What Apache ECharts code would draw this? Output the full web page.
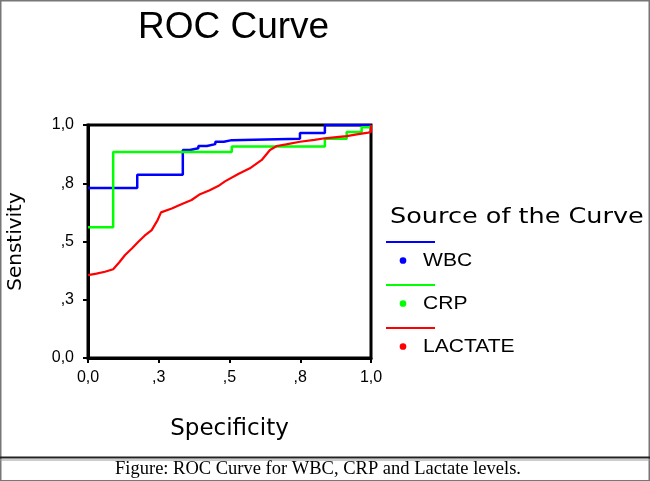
<!DOCTYPE html>
<html>
<head>
<meta charset="utf-8">
<title>ROC Curve</title>
<script src="https://cdn.jsdelivr.net/npm/echarts@6/dist/echarts.min.js"></script>
<style>
html, body { margin: 0; padding: 0; background: #fff; }
#main { width: 650px; height: 481px; }
</style>
</head>
<body>
<div id="main"></div>
<script>
var seriesNames = ['WBC', 'CRP', 'LACTATE'];
var seriesColors = ['#0000ff', '#00ff00', '#ff0000'];
var tickLabels = ['0,0', ',3', ',5', ',8', '1,0'];

// x = value on the "Specificity" axis, y = sensitivity
var wbcX = [0, 0.174, 0.335, 0.36, 0.39, 0.42, 0.45, 0.48, 0.508, 0.749, 0.837, 1];
var wbcY = [0.73, 0.787, 0.893, 0.9, 0.91, 0.918, 0.928, 0.935, 0.941, 0.966, 1, 1];

var crpX = [0, 0.089, 0.508, 0.837, 0.914, 0.967, 1];
var crpY = [0.561, 0.884, 0.908, 0.941, 0.97, 0.99, 1];

var lactateX = [0, 0.03, 0.06, 0.089, 0.11, 0.131, 0.155, 0.178, 0.2, 0.225, 0.246, 0.258, 0.296, 0.33, 0.366, 0.396, 0.43, 0.46, 0.484, 0.531, 0.572, 0.614, 0.643, 0.667, 0.7, 0.749, 0.8, 0.837, 0.87, 0.914, 0.95, 0.99, 1, 1];
var lactateY = [0.356, 0.362, 0.37, 0.381, 0.41, 0.442, 0.47, 0.499, 0.525, 0.549, 0.592, 0.625, 0.642, 0.66, 0.678, 0.703, 0.72, 0.738, 0.758, 0.79, 0.814, 0.85, 0.893, 0.91, 0.917, 0.928, 0.936, 0.943, 0.947, 0.952, 0.96, 0.967, 0.97, 1];

function pairs(xs, ys) {
    var out = [];
    for (var i = 0; i < xs.length; i++) {
        out.push([xs[i], ys[i]]);
    }
    return out;
}

function tickText(value) {
    return tickLabels[Math.round(value / 0.25)];
}

var myChart = echarts.init(document.getElementById('main'));

var font = 'Liberation Sans, Arial, sans-serif';

// legend drawn by hand: a line, then a dot + name under it
var legendRows = [242, 285, 328];
var graphics = [
    { type: 'rect', shape: { x: 0.75, y: 0.75, width: 648.5, height: 480 }, style: { fill: 'none', stroke: '#777', lineWidth: 1.5 }, silent: true },
    { type: 'line', shape: { x1: 0, y1: 457.5, x2: 650, y2: 457.5 }, style: { stroke: '#222', lineWidth: 2 }, silent: true },
    { type: 'line', shape: { x1: 0, y1: 460, x2: 650, y2: 460 }, style: { stroke: '#999', lineWidth: 1 }, silent: true },
    {
        type: 'text', x: 390, y: 217, scaleX: 1.16,
        style: { text: 'Source of the Curve', fill: '#000', font: '22px DejaVu Sans', verticalAlign: 'middle', textVerticalAlign: 'middle' }
    },
    {
        type: 'text', x: 318, y: 469,
        style: { text: 'Figure: ROC Curve for WBC, CRP and Lactate levels.', fill: '#000', font: '18.5px "Liberation Serif", serif', align: 'center', textAlign: 'center', verticalAlign: 'middle', textVerticalAlign: 'middle' }
    }
];
for (var k = 0; k < seriesNames.length; k++) {
    graphics.push({ type: 'line', shape: { x1: 386, y1: legendRows[k], x2: 435, y2: legendRows[k] }, style: { stroke: seriesColors[k], lineWidth: 2 } });
    graphics.push({ type: 'circle', shape: { cx: 403, cy: legendRows[k] + 18.5, r: 2.6 }, style: { fill: seriesColors[k], stroke: seriesColors[k], lineWidth: 1.5 } });
    graphics.push({
        type: 'text', x: 423, y: legendRows[k] + 19, scaleX: 1.17,
        style: { text: seriesNames[k], fill: '#000', font: '18px ' + font, verticalAlign: 'middle', textVerticalAlign: 'middle' }
    });
}

var option = {
    animation: false,
    backgroundColor: '#fff',
    title: {
        text: 'ROC Curve',
        left: 133,
        top: 4,
        textStyle: { fontSize: 37, fontWeight: 'normal', fontFamily: font, color: '#000' }
    },
    grid: {
        show: true,
        left: 88,
        top: 125,
        width: 283,
        height: 233,
        borderColor: '#000',
        borderWidth: 3
    },
    xAxis: {
        type: 'value',
        min: 0,
        max: 1,
        interval: 0.25,
        name: 'Specificity',
        nameLocation: 'middle',
        nameGap: 60,
        nameTextStyle: { fontSize: 23, fontFamily: 'DejaVu Sans', color: '#000' },
        axisLine: { show: true, lineStyle: { color: '#000', width: 3 } },
        axisTick: { show: true, length: 5, lineStyle: { color: '#000', width: 2 } },
        axisLabel: { formatter: tickText, fontSize: 16, fontFamily: font, color: '#000', margin: 12 },
        splitLine: { show: false }
    },
    yAxis: {
        type: 'value',
        min: 0,
        max: 1,
        interval: 0.25,
        name: 'Senstivity',
        nameLocation: 'middle',
        nameRotate: 90,
        nameGap: 62,
        nameTextStyle: { fontSize: 20, fontFamily: 'DejaVu Sans', color: '#000' },
        axisLine: { show: true, lineStyle: { color: '#000', width: 3 } },
        axisTick: { show: true, length: 5, lineStyle: { color: '#000', width: 2 } },
        axisLabel: { formatter: tickText, fontSize: 16, fontFamily: font, color: '#000', margin: 14 },
        splitLine: { show: false }
    },
    series: [
        {
            name: seriesNames[0], type: 'line', step: 'end', symbol: 'none',
            data: pairs(wbcX, wbcY),
            lineStyle: { color: seriesColors[0], width: 2.5 }, itemStyle: { color: seriesColors[0] }
        },
        {
            name: seriesNames[1], type: 'line', step: 'end', symbol: 'none',
            data: pairs(crpX, crpY),
            lineStyle: { color: seriesColors[1], width: 2.5 }, itemStyle: { color: seriesColors[1] }
        },
        {
            name: seriesNames[2], type: 'line', symbol: 'none',
            data: pairs(lactateX, lactateY),
            lineStyle: { color: seriesColors[2], width: 2.2 }, itemStyle: { color: seriesColors[2] }
        }
    ],
    graphic: graphics
};

myChart.setOption(option);
</script>
</body>
</html>
